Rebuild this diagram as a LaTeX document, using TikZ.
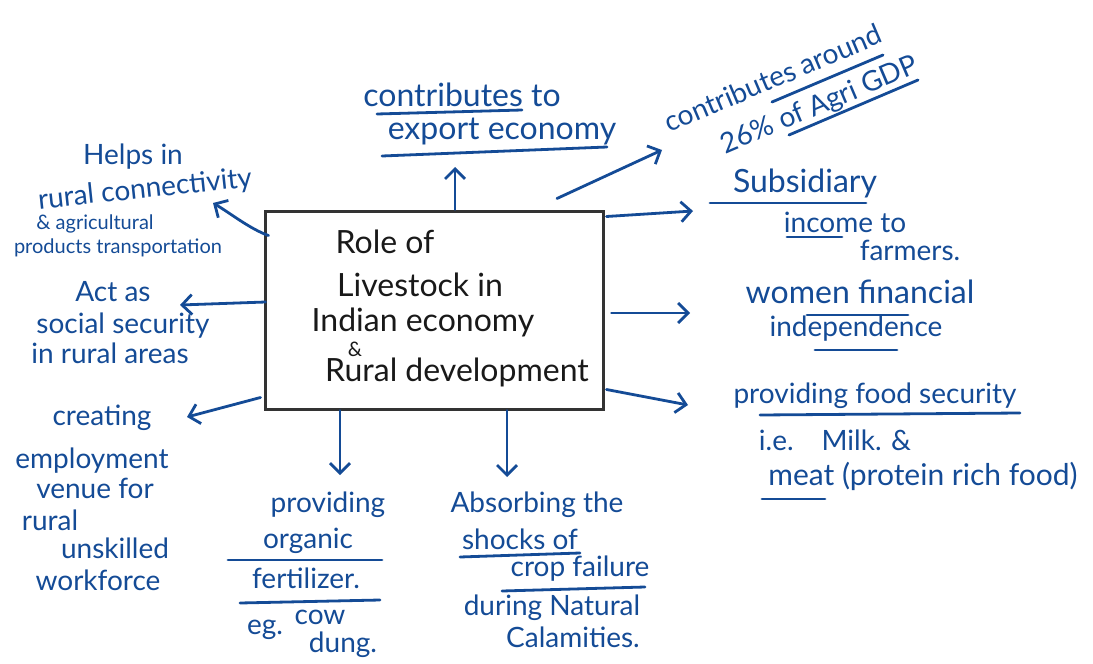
\documentclass[tikz,border=0pt]{standalone}
\usepackage{fontspec}
\setmainfont{Lato}
\usetikzlibrary{arrows.meta,calc}
\definecolor{ink}{RGB}{20,75,150}
\tikzset{>={Straight Barb[length=5pt,width=10pt]}}
\tikzset{
    hand/.style={text=ink,inner sep=0pt,font=\fontsize{14}{16}\selectfont},
    bighand/.style={hand,font=\fontsize{16}{18}\selectfont},
    smallhand/.style={hand,font=\fontsize{10}{12}\selectfont},
    boxtext/.style={inner sep=0pt,text=black!90,font=\fontsize{16}{18}\selectfont},
    rolebox/.style={draw=black!80,line width=1.5pt,minimum width=169pt,minimum height=99pt,inner sep=0pt},
    link/.style={draw=ink,line width=1.4pt,->,line cap=round},
    stroke/.style={draw=ink,line width=1.4pt,line cap=round},
}

\begin{document}
\begin{tikzpicture}[x=0.5pt,y=-0.5pt]
    \useasboundingbox (0,0) rectangle (1093,664);

    % central box
    \node[rolebox] (box) at (434,310) {};
    \node[boxtext] (role1) at (385,242) {Role of};
    \node[boxtext] (role2) at (420,285) {Livestock in};
    \node[boxtext] (role3) at (423,322) {Indian economy};
    \node[boxtext,font=\fontsize{10}{12}\selectfont] (role4) at (355,349) {\&};
    \node[boxtext] (role5) at (457,372) {Rural development};

    % top
    \node[bighand] (exp1) at (462,95) {contributes to};
    \node[bighand] (exp2) at (502,132) {export economy};
    \draw[stroke] (377,114) -- (522,110);
    \draw[stroke] (382,156) -- (607,147);
    \coordinate (expTip) at (455,167);
    \draw[link] (box.north -| expTip) -- (expTip);

    \node[hand,rotate=23] (gdp1) at (773,78) {contributes around};
    \node[hand,rotate=23] (gdp2) at (820,106) {26\% of Agri GDP};
    \draw[stroke] (772,102) -- (883,55);
    \draw[stroke] (789,135) -- (918,80);
    \coordinate (gdpTip) at (662,150);
    \draw[link] ($(box.north)+(123,-11)$) -- (gdpTip);

    % right
    \node[bighand] (sub1) at (805,183) {Subsidiary};
    \node[hand] (sub2) at (845,222) {income to};
    \node[hand] (sub3) at (910,250) {farmers.};
    \draw[stroke] (710,203) -- (866,203);
    \draw[stroke] (787,237) -- (842,237);
    \coordinate (subTip) at (693,211);
    \draw[link] ($(box.north east)+(2,7)$) -- (subTip);

    \node[bighand] (wom1) at (860,292) {women financial};
    \node[hand] (wom2) at (856,329) {independence};
    \draw[stroke] (807,315) -- (908,315);
    \draw[stroke] (815,350) -- (897,350);
    \coordinate (womTip) at (690,313);
    \draw[link] ($(box.east)+(7,3)$) -- (womTip);

    \node[hand] (food1) at (875,396) {providing food security};
    \node[hand] (food2) at (835,440) {i.e.\quad Milk. \&};
    \node[hand,font=\fontsize{15}{17}\selectfont] (food3) at (923,476) {meat (protein rich food)};
    \draw[stroke] (760,415) -- (1020,413);
    \draw[stroke] (762,499) -- (825,499);
    \coordinate (foodTip) at (688,405);
    \draw[link] ($(box.south east)+(2,-21)$) -- (foodTip);

    % bottom
    \node[hand] (org1) at (328,505) {providing};
    \node[hand] (org2) at (308,541) {organic};
    \node[hand] (org3) at (306,578) {fertilizer.};
    \node[hand] (org4) at (265,630) {eg.};
    \node[hand] (org5) at (320,617) {cow};
    \node[hand] (org6) at (343,645) {dung.};
    \draw[stroke] (228,560) -- (382,560);
    \draw[stroke] (240,603) -- (380,600);
    \coordinate (orgTip) at (340,475);
    \draw[link] (box.south -| orgTip) -- (orgTip);

    \node[hand] (abs1) at (537,505) {Absorbing the};
    \node[hand] (abs2) at (520,539) {shocks of};
    \node[hand] (abs3) at (580,569) {crop failure};
    \node[hand] (abs4) at (552,608) {during Natural};
    \node[hand] (abs5) at (573,637) {Calamities.};
    \draw[stroke] (460,557) -- (580,553);
    \draw[stroke] (502,591) -- (645,587);
    \coordinate (absTip) at (507,477);
    \draw[link] (box.south -| absTip) -- (absTip);

    % left
    \node[hand] (emp1) at (102,418) {creating};
    \node[hand] (emp2) at (92,461) {employment};
    \node[hand] (emp3) at (95,488) {venue for};
    \node[hand] (emp4) at (50,520) {rural};
    \node[hand] (emp5) at (115,548) {unskilled};
    \node[hand] (emp6) at (98,580) {workforce};
    \coordinate (empTip) at (187,417);
    \draw[link] ($(box.south west)+(-3,-13)$) -- (empTip);

    \node[hand] (soc1) at (113,292) {Act as};
    \node[hand] (soc2) at (123,326) {social security};
    \node[hand] (soc3) at (110,353) {in rural areas};
    \coordinate (socTip) at (180,305);
    \draw[link] ($(box.west)+(2,-8)$) -- (socTip);

    \node[hand] (con1) at (133,157) {Helps in};
    \node[hand,rotate=6] (con2) at (145,190) {rural connectivity};
    \node[smallhand] (con3) at (95,224) {\& agricultural};
    \node[smallhand] (con4) at (118,248) {products transportation};
    \coordinate (conTip) at (213,203);
    \draw[link] ($(box.north west)+(5,26)$) .. controls (250,229) and (230,213) .. (conTip);
\end{tikzpicture}
\end{document}
